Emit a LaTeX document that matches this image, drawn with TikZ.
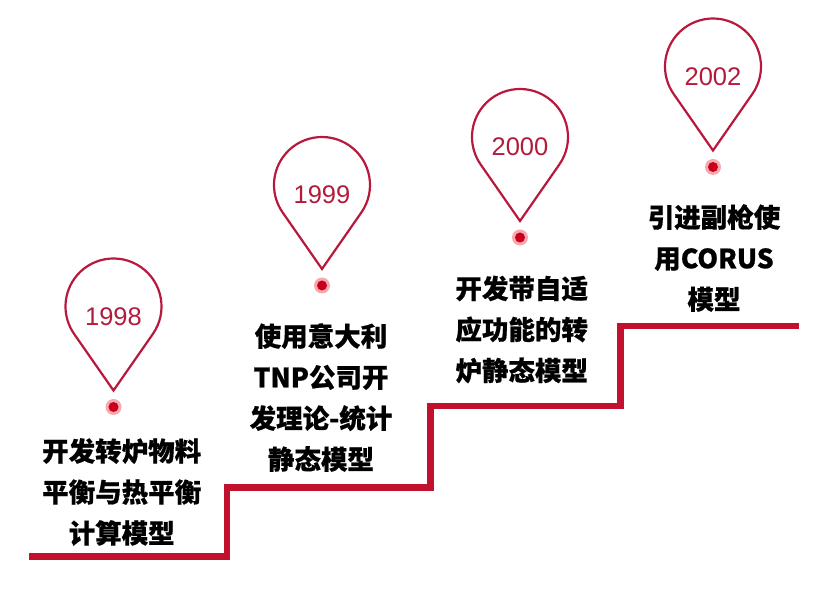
\documentclass[tikz,border=0pt]{standalone}
\usepackage{fontspec}
\newfontfamily\cjk{Noto Sans CJK SC}[BoldFeatures={FakeBold=0.6}]
\newfontfamily\arial{Liberation Sans}
\usetikzlibrary{calc}
\definecolor{stairred}{HTML}{C2112F}
\definecolor{pinred}{HTML}{B8183C}
\definecolor{yearred}{HTML}{B31B3A}
\definecolor{dotred}{HTML}{C8001E}
\definecolor{halored}{HTML}{F7A9B0}
\tikzset{
  stair/.style={draw=stairred, line width=6.5pt, line join=miter},
  pinline/.style={draw=pinred, line width=2.2pt, line join=miter},
  yeartext/.style={font=\arial\fontsize{25.5}{25.5}\selectfont, text=yearred, inner sep=0pt},
  desc/.style={font=\cjk\bfseries\fontsize{26.5}{41}\selectfont, align=center, inner sep=0pt, text=black},
  dothalo/.style={circle, fill=halored, minimum size=16pt, inner sep=0pt},
  dotcore/.style={circle, fill=dotred, minimum size=10pt, inner sep=0pt}
}
\begin{document}
\begin{tikzpicture}[x=1pt,y=1pt]
\useasboundingbox (0,0) rectangle (825,597);
% staircase
\coordinate (s0) at (29,40.5);
\coordinate (s1) at (227,40.5);
\coordinate (s2) at (227,109.5);
\coordinate (s3) at (430.5,109.5);
\coordinate (s4) at (430.5,191);
\coordinate (s5) at (620.5,191);
\coordinate (s6) at (620.5,271);
\coordinate (s7) at (799,271);
\draw[stair] (s0) -- (s1) -- (s2) -- (s3) -- (s4) -- (s5) -- (s6) -- (s7);
% pins
\foreach \n/\cx/\cy/\yr in {1/113.5/290.5/1998, 2/322/412/1999, 3/520/460/2000, 4/713/530.5/2002}{
  \coordinate (c\n) at (\cx,\cy);
  \coordinate (tip\n) at (\cx,\cy-84);
  \draw[pinline] (tip\n) -- ($(c\n)+(-34.85:48)$) arc[start angle=-34.85, end angle=214.85, radius=48] -- cycle;
  \node[yeartext] (yr\n) at (\cx,\cy-10) {\yr};
  \node[dothalo] (halo\n) at (\cx,\cy-100.5) {};
  \node[dotcore] (dot\n) at (\cx,\cy-100.5) {};
}
% descriptions
\node[desc] (d1) at (121.7,105) {开发转炉物料\\平衡与热平衡\\计算模型};
\node[desc] (d2) at (321,199.5) {使用意大利\\TNP公司开\\发理论-统计\\静态模型};
\node[desc] (d3) at (521.7,267.5) {开发带自适\\应功能的转\\炉静态模型};
\node[desc] (d4) at (714,339) {引进副枪使\\用CORUS\\模型};
\end{tikzpicture}
\end{document}
